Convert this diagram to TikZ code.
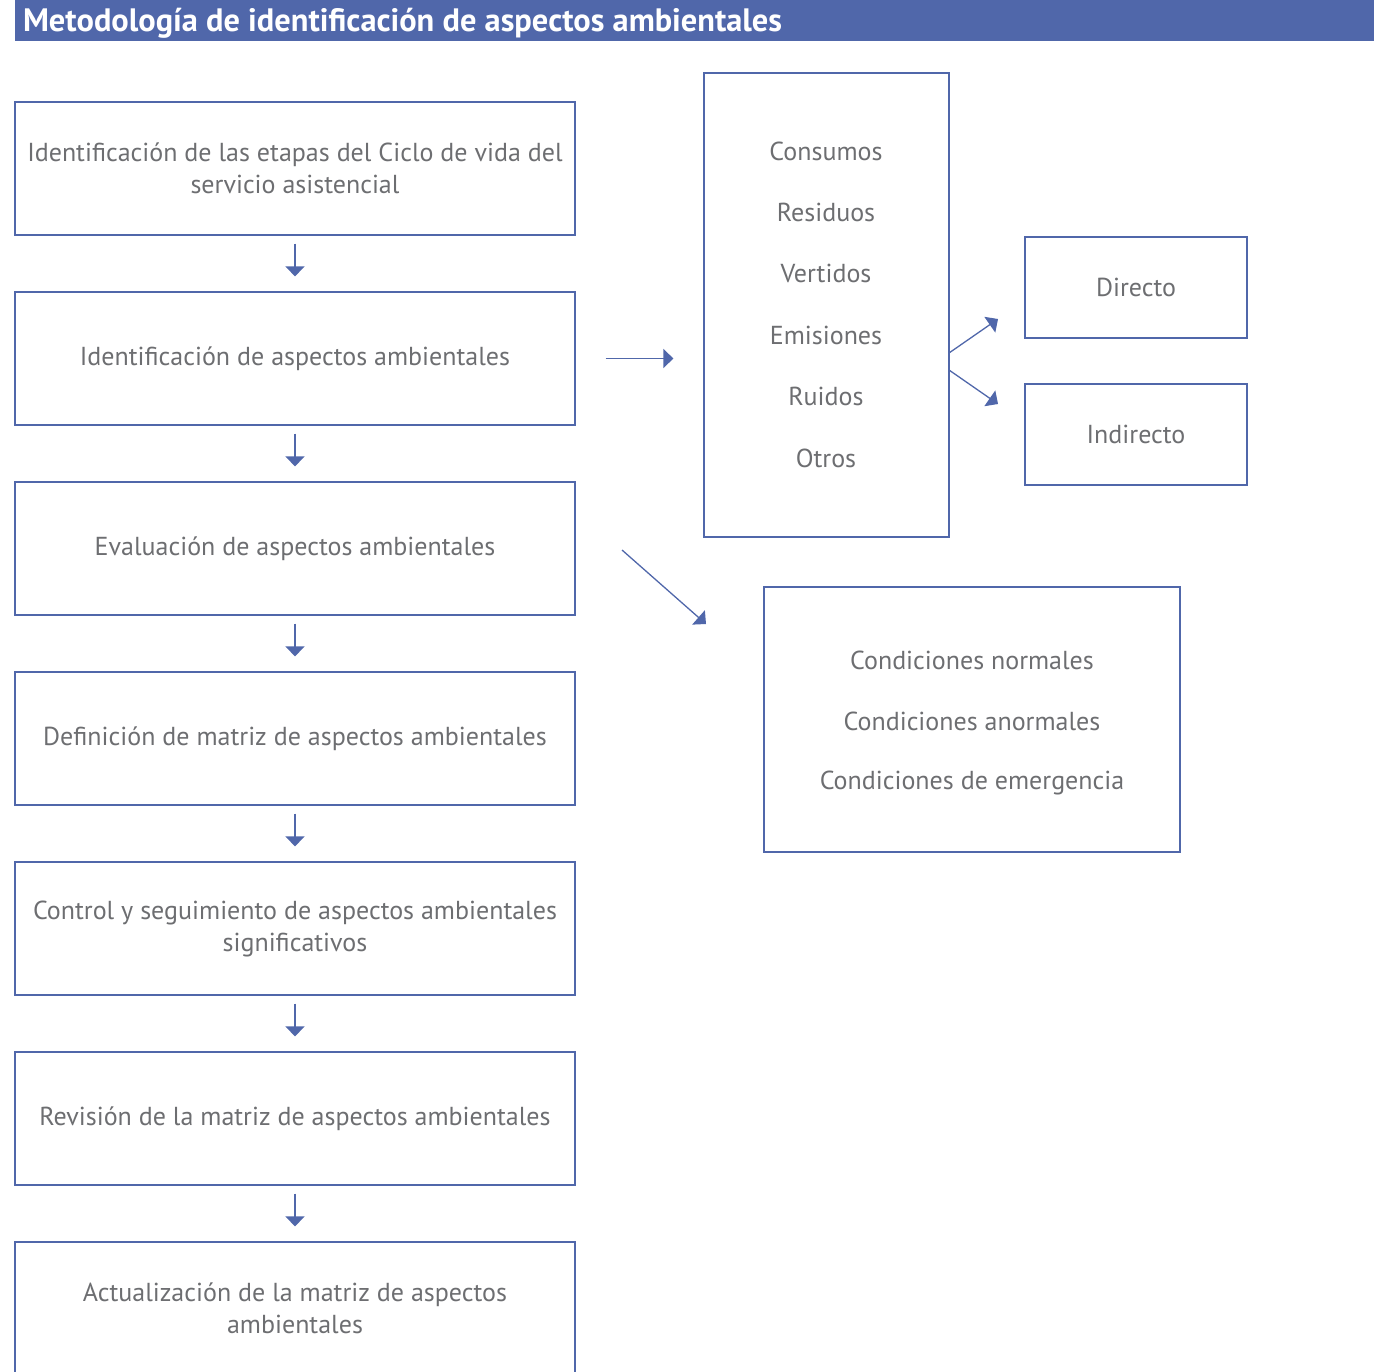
\documentclass[tikz,border=0pt]{standalone}
\usepackage{fontspec}
\setmainfont{PT Sans}
\usepackage{tikz}
\usetikzlibrary{arrows.meta}

\definecolor{azul}{HTML}{5067AA}
\definecolor{gris}{HTML}{6D6E71}

\tikzset{
  caja/.style={draw=azul, line width=0.6pt, minimum width=280pt, minimum height=66.5pt,
    align=center, text=gris, font=\fontsize{13}{16}\selectfont},
  item/.style={text=gris, font=\fontsize{13}{16}\selectfont},
  flecha/.style={draw=azul, line width=0.65pt, -{Triangle[length=5pt,width=9.5pt]}}
}

\begin{document}
\begin{tikzpicture}[x=0.5pt, y=-0.5pt]
            \clip (0,0) rectangle (1374,1371);

            % titulo
            \fill[azul] (15,0) rectangle (1374,41);
            \node[anchor=west, text=white, font=\fontsize{16.2}{18}\bfseries] (titulo) at (16,23)
                {Metodología de identificación de aspectos ambientales};

            % etapas (columna izquierda)
            \node[caja] (b1) at (295,168.5) {Identificación de las etapas del Ciclo de vida del\\servicio asistencial};
            \node[caja] (b2) at (295,358.5) {Identificación de aspectos ambientales};
            \node[caja] (b3) at (295,548.5) {Evaluación de aspectos ambientales};
            \node[caja] (b4) at (295,738.5) {Definición de matriz de aspectos ambientales};
            \node[caja] (b5) at (295,928.5) {Control y seguimiento de aspectos ambientales\\significativos};
            \node[caja] (b6) at (295,1118.5) {Revisión de la matriz de aspectos ambientales};
            \node[caja] (b7) at (295,1308.5) {Actualización de la matriz de aspectos\\ambientales};

            % flechas verticales
            \foreach \a/\b in {b1/b2, b2/b3, b3/b4, b4/b5, b5/b6, b6/b7}
                \draw[flecha, shorten <=4pt, shorten >=7.5pt] (\a.south) -- (\b.north);

            % tipos de aspectos
            \node[caja, minimum width=122.5pt, minimum height=232pt] (asp) at (826.5,305) {};
            \foreach \t [count=\i] in {Consumos, Residuos, Vertidos, Emisiones, Ruidos, Otros}
                \node[item] (asp-\i) at (826, 151+61.4*\i-61.4) {\t};
            \draw[flecha, shorten <=15pt, shorten >=15pt] (b2.east) -- (asp.west |- b2.east);

            % directo / indirecto
            \node[caja, minimum width=111pt, minimum height=50.5pt] (dir) at (1136,287.5) {Directo};
            \node[caja, minimum width=111pt, minimum height=50.5pt] (ind) at (1136,434.5) {Indirecto};
            \coordinate (s1) at (949,353);
            \coordinate (s2) at (949,370);
            \coordinate (e1) at (998,319);
            \coordinate (e2) at (998,404);
            \draw[flecha] (s1) -- (e1);
            \draw[flecha] (s2) -- (e2);

            % condiciones
            \node[caja, minimum width=208pt, minimum height=132.5pt] (cond) at (972,719.5) {};
            \foreach \t [count=\i] in {Condiciones normales, Condiciones anormales, Condiciones de emergencia}
                \node[item] (cond-\i) at (972, 660+61.5*\i-61.5) {\t};
            \coordinate (d0) at (622,550);
            \coordinate (d1) at (706,624);
            \draw[flecha] (d0) -- (d1);
\end{tikzpicture}
\end{document}
